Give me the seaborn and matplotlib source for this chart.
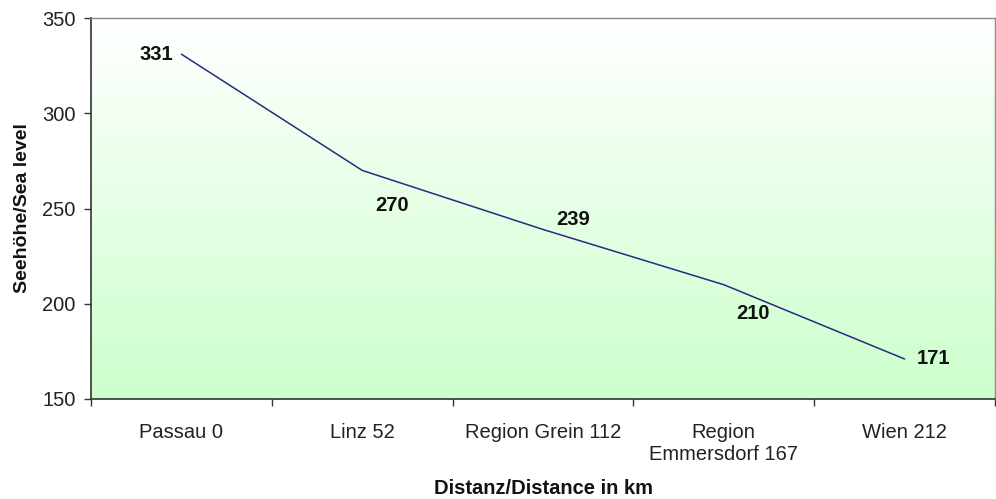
import numpy as np
import pandas as pd
import seaborn as sns
import matplotlib.pyplot as plt
from matplotlib.colors import LinearSegmentedColormap

# data
places = ['Passau 0', 'Linz 52', 'Region Grein 112', 'Region\nEmmersdorf 167', 'Wien 212']
height = [331, 270, 239, 210, 171]
# label offsets in pixels (dx, dy) and alignment, like the excel data labels
lbl_off = [(-8, 0), (30, -35), (30, 10), (29, -29), (12, 0)]
lbl_ha = ['right', 'center', 'center', 'center', 'left']

df = pd.DataFrame({'place': places, 'height': height})

sns.set_theme(style='white')
plt.rcParams['font.family'] = ['Liberation Sans', 'DejaVu Sans']

fig = plt.figure(figsize=(9.96, 4.99), dpi=100)
ax = fig.add_axes([91/996, 1 - 399/499, 904/996, 381/499])

# white -> light green gradient background
cmap = LinearSegmentedColormap.from_list('bg', ['#ffffff', '#ccffcc'])
grad = np.linspace(0, 1, 256).reshape(-1, 1)
ax.imshow(grad, aspect='auto', cmap=cmap, extent=[0, 1, 0, 1],
          transform=ax.transAxes, origin='upper', zorder=0)

sns.lineplot(data=df, x='place', y='height', ax=ax, color='#2a2a80',
             linewidth=1.1, sort=False, zorder=3)

px2pt = 72 / fig.dpi
for i, (v, (dx, dy), ha) in enumerate(zip(height, lbl_off, lbl_ha)):
    ax.annotate(str(v), (i, v), xytext=(dx * px2pt, dy * px2pt),
                textcoords='offset points', ha=ha, va='center',
                fontsize=14.5, fontweight='bold', color='#111111')

ax.set_xlim(-0.5, len(places) - 0.5)
ax.set_ylim(150, 350)
ax.set_yticks([150, 200, 250, 300, 350])
ax.set_xticks(range(len(places)))
ax.set_xticklabels(places)
ax.set_xticks(np.arange(-0.5, len(places), 1), minor=True)
ax.tick_params(axis='x', which='major', length=0, pad=17, labelsize=14.5, colors='#222222')
ax.tick_params(axis='x', which='minor', length=5, width=1, color='#333333', direction='out', bottom=True)
ax.tick_params(axis='y', length=5, width=1, color='#333333', direction='out', left=True,
               labelsize=14.5, labelcolor='#222222', pad=6)

ax.set_xlabel('')
ax.set_ylabel('Seehöhe/Sea level', fontsize=14, fontweight='bold', color='#111111')
ax.yaxis.set_label_coords(-60/904, 0.5)
fig.text(ax.get_position().x0 + ax.get_position().width / 2, 1 - 488/499,
         'Distanz/Distance in km', ha='center', va='center',
         fontsize=14.5, fontweight='bold', color='#111111')

for s in ['left', 'bottom']:
    ax.spines[s].set_color('#333333')
    ax.spines[s].set_linewidth(1.2)
for s in ['top', 'right']:
    ax.spines[s].set_color('#8a8a8a')
    ax.spines[s].set_linewidth(1)
ax.grid(False)

fig.savefig('out.png', dpi=100)
